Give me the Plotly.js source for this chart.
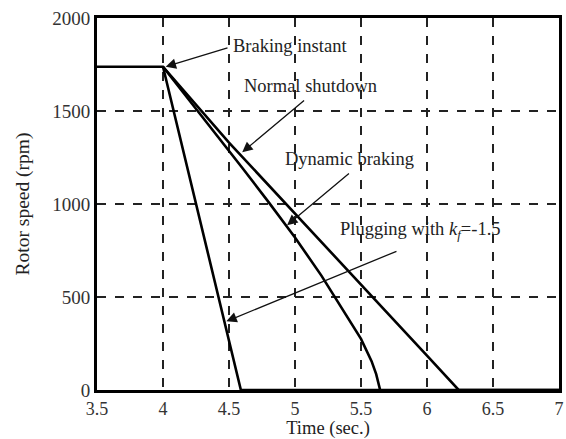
<!DOCTYPE html>
<html>
<head>
<meta charset="utf-8">
<script src="https://cdn.plot.ly/plotly-3.0.1.min.js"></script>
<style>html,body{margin:0;padding:0;background:#fff;}#chart{width:566px;height:439px;}</style>
</head>
<body>
<div id="chart"></div>
<script>
// Time (sec.) and rotor speed (rpm) for each stopping method
var normalTime = [3.5, 4.0, 4.5, 5.0, 5.5, 6.0, 6.24, 7.0];
var normalSpeed = [1738, 1738, 1330, 950, 565, 185, 0, 0];

var dynamicTime = [4.0, 4.3, 4.6, 4.8, 5.0, 5.2, 5.3, 5.4, 5.5, 5.58, 5.615, 5.645];
var dynamicSpeed = [1738, 1468, 1195, 1010, 820, 615, 503, 390, 275, 155, 85, 0];

var pluggingTime = [4.0, 4.3, 4.59, 7.0];
var pluggingSpeed = [1738, 860, 0, 0];

var xTicks = [3.5, 4, 4.5, 5, 5.5, 6, 6.5, 7];
var xTickLabels = ['3.5', '4', '4.5', '5', '5.5', '6', '6.5', '7'];
var yTicks = [0, 500, 1000, 1500, 2000];
var yTickLabels = ['0', '500', '1000', '1500', '2000'];

// annotation labels: text, position, arrow tail, arrow tip
var labelTexts = ['Braking instant', 'Normal shutdown', 'Dynamic braking', 'Plugging with <i>k<sub>f</sub></i>=-1.5'];
var labelX = [4.96, 5.12, 5.41, 5.95];
var labelY = [1850, 1635, 1242, 859];
var arrowTailX = [4.50, 5.08, 5.42, 5.78];
var arrowTailY = [1842, 1563, 1171, 749];
var arrowTipX = [4.02, 4.60, 4.94, 4.48];
var arrowTipY = [1738, 1278, 886, 369];

var font = 'Liberation Serif, Times New Roman, serif';
var lineStyle = {color: '#000', width: 2.6};

var traces = [
  {x: normalTime, y: normalSpeed, mode: 'lines', line: lineStyle, name: 'Normal shutdown'},
  {x: dynamicTime, y: dynamicSpeed, mode: 'lines', line: lineStyle, name: 'Dynamic braking'},
  {x: pluggingTime, y: pluggingSpeed, mode: 'lines', line: lineStyle, name: 'Plugging'}
];

var annotations = [];
for (var i = 0; i < labelTexts.length; i++) {
  annotations.push({
    x: labelX[i], y: labelY[i], xref: 'x', yref: 'y',
    text: labelTexts[i], showarrow: false,
    font: {family: font, size: 18.5, color: '#222'}
  });
  annotations.push({
    x: arrowTipX[i], y: arrowTipY[i], xref: 'x', yref: 'y',
    ax: arrowTailX[i], ay: arrowTailY[i], axref: 'x', ayref: 'y',
    text: '', showarrow: true, arrowhead: 2, arrowsize: 1.6, arrowwidth: 1.3,
    arrowcolor: '#111', standoff: 0, startstandoff: 0
  });
}

var layout = {
  width: 566, height: 439,
  margin: {l: 97, r: 7, t: 18, b: 49},
  paper_bgcolor: '#fff', plot_bgcolor: '#fff',
  showlegend: false,
  font: {family: font, size: 19, color: '#222'},
  xaxis: {
    range: [3.5, 7], tickvals: xTicks, ticktext: xTickLabels,
    showline: true, mirror: true, linecolor: '#000', linewidth: 3,
    showgrid: true, gridcolor: '#222', griddash: 'dash', gridwidth: 1.4,
    zeroline: false, ticks: '', ticklabelstandoff: 0,
    tickfont: {family: font, size: 18, color: '#333'},
    title: {text: 'Time (sec.)', font: {family: font, size: 18.5, color: '#222'}, standoff: 6}
  },
  yaxis: {
    range: [0, 2000], tickvals: yTicks, ticktext: yTickLabels,
    showline: true, mirror: true, linecolor: '#000', linewidth: 3,
    showgrid: true, gridcolor: '#222', griddash: 'dash', gridwidth: 1.4,
    zeroline: false, ticks: '',
    tickfont: {family: font, size: 19, color: '#333'},
    title: {text: 'Rotor speed (rpm)', font: {family: font, size: 19.5, color: '#222'}, standoff: 18}
  },
  annotations: annotations
};

Plotly.newPlot('chart', traces, layout, {displayModeBar: false, staticPlot: true});
</script>
</body>
</html>
